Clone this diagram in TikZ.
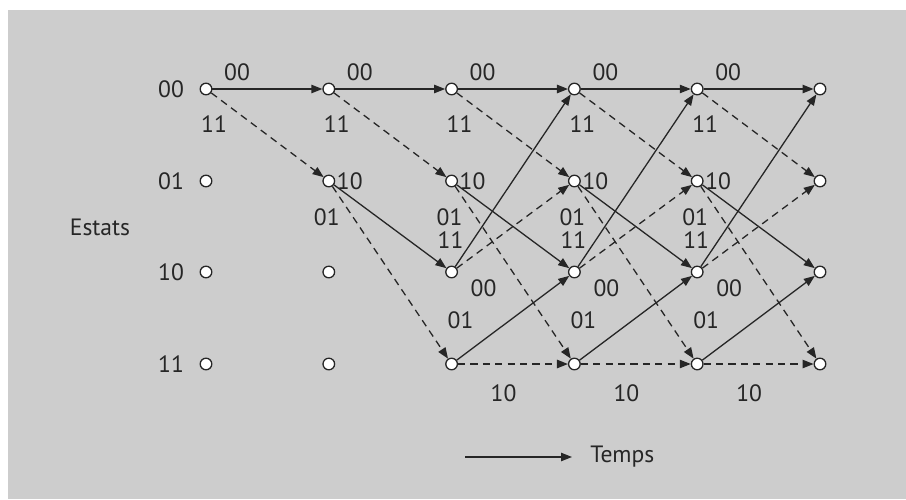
\documentclass[tikz,border=0pt]{standalone}
\usepackage{fontspec}
\setmainfont{PT Sans}
\usetikzlibrary{arrows.meta}
\definecolor{ink}{HTML}{262626}
\definecolor{panel}{HTML}{CDCDCD}

\begin{document}
\begin{tikzpicture}[x=0.5pt, y=-0.5pt,
  st/.style={circle, draw=ink, fill=white, line width=0.65pt, inner sep=0pt, minimum size=5.8pt},
  lbl/.style={font=\fontsize{11.8}{13}\selectfont, text=ink, inner sep=0pt},
  bitzero/.style={draw=ink, line width=0.65pt, -{Triangle[length=5.5pt, width=4.2pt]}},
  bitone/.style={bitzero, dash pattern=on 3.6pt off 2.6pt}
]

% background panel
\fill[panel] (8,10) rectangle (906,499);
\useasboundingbox (0,0) rectangle (906,499);

% trellis states
\foreach \c in {0,...,5}
  \foreach \r/\y in {0/89, 1/181, 2/272, 3/364}
    \node[st] (s\c\r) at ({206+122.8*\c}, \y) {};

% state names
\node[lbl] (r0) at (171,89)  {00};
\node[lbl] (r1) at (171,181) {01};
\node[lbl] (r2) at (171,272) {10};
\node[lbl] (r3) at (171,364) {11};
\node[lbl] (estats) at (100,227) {Estats};

% first two steps
\draw[bitzero] (s00) -- (s10);
\draw[bitone]  (s00) -- (s11);
\draw[bitzero] (s10) -- (s20);
\draw[bitone]  (s10) -- (s21);
\draw[bitzero] (s11) -- (s22);
\draw[bitone]  (s11) -- (s23);

% full steps
\foreach \c [evaluate=\c as \n using int(\c+1)] in {2,3,4} {
  \draw[bitzero] (s\c0) -- (s\n0);
  \draw[bitone]  (s\c0) -- (s\n1);
  \draw[bitzero] (s\c1) -- (s\n2);
  \draw[bitone]  (s\c1) -- (s\n3);
  \draw[bitzero] (s\c2) -- (s\n0);
  \draw[bitone]  (s\c2) -- (s\n1);
  \draw[bitzero] (s\c3) -- (s\n2);
  \draw[bitone]  (s\c3) -- (s\n3);
}

% output bits on the branches
\foreach \c in {0,...,4} {
  \node[lbl] (oa\c) at ({237+122.8*\c}, 72)  {00};
  \node[lbl] (ob\c) at ({214+122.8*\c}, 124) {11};
}
\foreach \c in {1,...,4} {
  \node[lbl] (oc\c) at ({227+122.8*\c}, 181) {10};
  \node[lbl] (od\c) at ({204+122.8*\c}, 217) {01};
}
\foreach \c in {2,3,4} {
  \node[lbl] (oe\c) at ({205+122.8*\c}, 240) {11};
  \node[lbl] (of\c) at ({238+122.8*\c}, 288) {00};
  \node[lbl] (og\c) at ({215+122.8*\c}, 320) {01};
  \node[lbl] (oh\c) at ({258+122.8*\c}, 393) {10};
}

% time axis
\coordinate (t0) at (465,457);
\node[lbl, anchor=west] (temps) at (590,457) {Temps};
\draw[bitzero, shorten >=9pt] (t0) -- (temps.west);

\end{tikzpicture}
\end{document}
